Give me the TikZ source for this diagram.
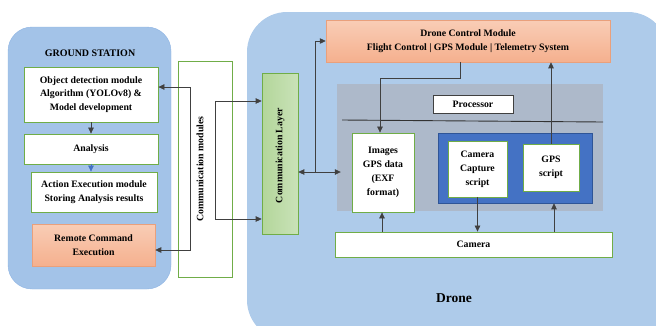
\documentclass[tikz,border=0pt]{standalone}
\usepackage{fontspec}
\setmainfont{Liberation Serif}
\usetikzlibrary{arrows.meta,calc}
\definecolor{gsblue}{HTML}{A3C3E8}
\definecolor{gsedge}{HTML}{8EB4E3}
\definecolor{dronebg}{HTML}{AECBEA}
\definecolor{salmon}{HTML}{F5B08E}
\definecolor{salmonlt}{HTML}{F9CDB6}
\definecolor{salmonedge}{HTML}{E9A07C}
\definecolor{grnedge}{HTML}{70AD47}
\definecolor{grnfill}{HTML}{B3D69A}
\definecolor{grnfilllt}{HTML}{C9E2B8}
\definecolor{procgray}{HTML}{ADB9CA}
\definecolor{darkblue}{HTML}{4472C4}
\definecolor{darkblueedge}{HTML}{2F5597}
\definecolor{linegray}{HTML}{404040}
\tikzset{
  txt/.style={font=\fontsize{9.8}{13.8}\selectfont\bfseries, align=center},
  wbox/.style={txt, draw=grnedge, line width=0.8pt, fill=white, inner sep=0pt},
  sbox/.style={txt, draw=salmonedge, line width=0.5pt, top color=salmonlt, bottom color=salmon, inner sep=0pt},
  con/.style={draw=linegray, line width=0.7pt},
  tip/.style={-{Triangle[length=6pt,width=5.5pt]}},
  twotip/.style={{Triangle[length=6pt,width=5.5pt]}-{Triangle[length=6pt,width=5.5pt]}},
}
\begin{document}
\begin{tikzpicture}[x=1pt,y=-1pt]
\useasboundingbox (0,0) rectangle (656,325);
\begin{scope}
\clip (0,0) rectangle (656,325);
% Drone panel
\fill[dronebg, rounded corners=40pt] (247,12) rectangle (668,340);
\end{scope}
% Ground station panel
\node[draw=gsedge, fill=gsblue, rounded corners=24pt, minimum width=163pt, minimum height=262pt, inner sep=0pt] (gs) at (89.5,158) {};
\node[font=\fontsize{10}{12}\selectfont\bfseries] (gstitle) at (90,53) {GROUND STATION};
\node[wbox, minimum width=134pt, minimum height=55pt] (obj) at (91,94.5) {Object detection module\\Algorithm (YOLOv8) \&\\Model development};
\node[wbox, minimum width=134pt, minimum height=30pt] (ana) at (91,149) {Analysis};
\node[wbox, minimum width=126pt, minimum height=40pt] (act) at (94,192) {Action Execution module\\Storing Analysis results};
\node[sbox, minimum width=123pt, minimum height=42pt] (rem) at (93.5,245) {Remote Command\\Execution};
% Communication modules
\node[draw=grnedge, line width=0.8pt, fill=white, minimum width=54pt, minimum height=216pt, inner sep=0pt] (cmod) at (205,169) {};
\node[txt, rotate=90] (cmodtxt) at (200,169) {Communication modules};
% Communication layer
\node[draw=grnedge, line width=0.6pt, left color=grnfill, right color=grnfilllt, minimum width=36pt, minimum height=161pt, inner sep=0pt] (clay) at (280,153.5) {};
\node[txt, rotate=90] (claytxt) at (280,155.5) {Communication Layer};
% Drone
\node[sbox, minimum width=284pt, minimum height=42pt] (dcm) at (468,41) {Drone Control Module\\Flight Control | GPS Module | Telemetry System};
\node[fill=procgray, minimum width=266pt, minimum height=127pt, inner sep=0pt] (proc) at (470,147.5) {};
\node[txt, draw=linegray, line width=0.5pt, fill=white, minimum width=80pt, minimum height=18pt, inner sep=0pt] (ptitle) at (473,104) {Processor};
\coordinate (hl1) at (342,120);
\coordinate (hl2) at (603,122);
\draw[draw=linegray!80!black, line width=0.9pt] (hl1) -- (hl2);
\node[wbox, minimum width=62pt, minimum height=79pt] (img) at (383,172.5) {Images\\GPS data\\(EXF\\format)};
\node[draw=darkblueedge, line width=0.6pt, fill=darkblue, minimum width=154pt, minimum height=70pt, inner sep=0pt] (blue) at (515,168) {};
\node[wbox, minimum width=59pt, minimum height=56pt] (cap) at (477.5,169) {Camera\\Capture\\script};
\node[wbox, minimum width=56pt, minimum height=47pt] (gps) at (551,167.5) {GPS\\script};
\node[wbox, minimum width=277pt, minimum height=25pt] (cam) at (473.5,244.5) {Camera};
\node[font=\fontsize{13.5}{15}\selectfont\bfseries] (dlabel) at (454,298) {Drone};
% Connectors ground station
\draw[con, tip] (obj.south) -- (ana.north);
\draw[draw=darkblue, line width=0.7pt, -{Triangle[length=6pt,width=5.5pt]}] (ana.south) -- (ana.south |- act.north);
\coordinate (b1t) at (190,87);
\coordinate (b1b) at (190,250);
\draw[con, twotip] (obj.east |- b1t) -- (b1t) -- (b1b) -- (rem.east |- b1b);
\coordinate (b2t) at (215,101);
\coordinate (b2b) at (215,219);
\draw[con, twotip] (clay.west |- b2t) -- (b2t) -- (b2b) -- (clay.west |- b2b);
% Connectors drone
\coordinate (cy) at (315,172);
\draw[con, twotip] (clay.east |- cy) -- ([xshift=4pt]proc.west |- cy);
\draw[con, tip] (cy) |- (dcm.west);
\coordinate (d1) at (460,78);
\draw[con, tip] (dcm.south -| d1) -- (d1) -| ([xshift=-3pt]img.north);
\draw[con, tip] (gps.north) -- (gps.north |- dcm.south);
\draw[con, tip] ([xshift=-1pt]cam.north -| img.south) -- ([xshift=-1pt]img.south);
\draw[con, tip] (cap.south) -- (cap.south |- cam.north);
\coordinate (c3) at (554,232);
\draw[con, tip] (cam.north -| c3) -- (blue.south -| c3);
\end{tikzpicture}
\end{document}
